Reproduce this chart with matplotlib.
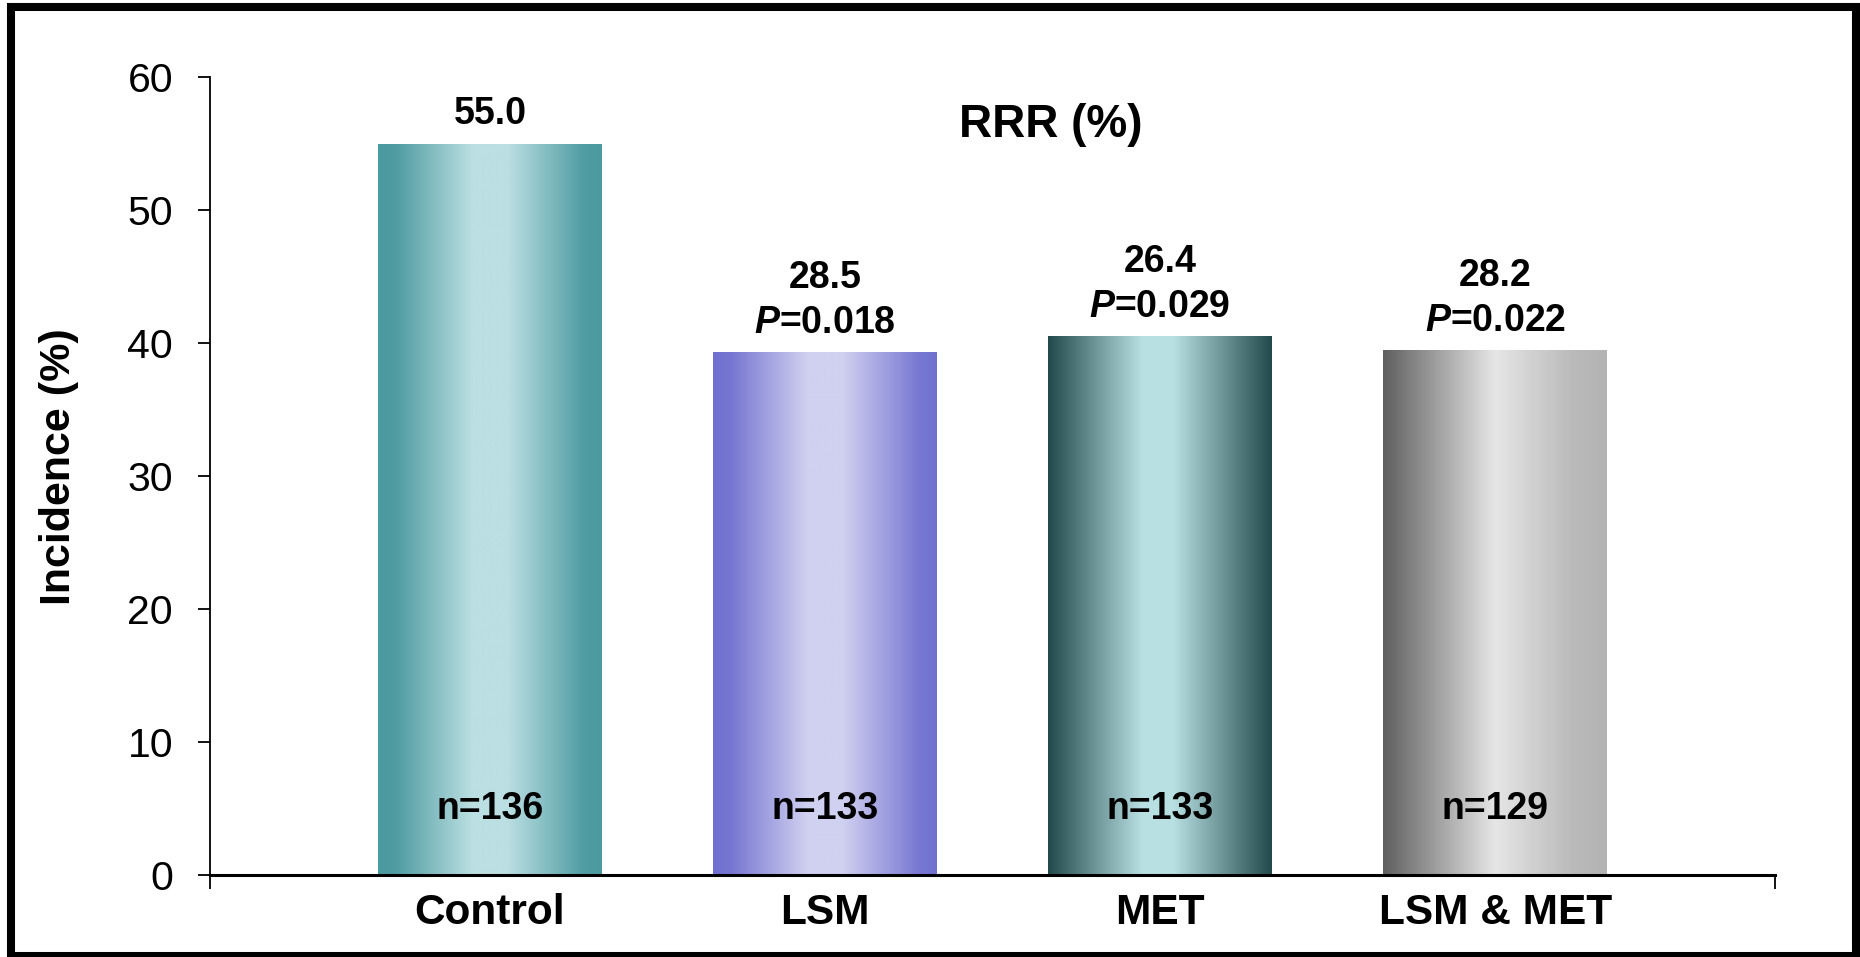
import numpy as np
import matplotlib
matplotlib.use("Agg")
import matplotlib.pyplot as plt
from matplotlib.colors import LinearSegmentedColormap
from matplotlib.patches import Rectangle

# ─── Data ────────────────────────────────────────────────────────────────────

groups = ["Control", "LSM", "MET", "LSM & MET"]
incidence = [55.0, 39.3, 40.5, 39.5]
rrr = [None, 28.5, 26.4, 28.2]
p_values = [None, "0.018", "0.029", "0.022"]
n_sizes = [136, 133, 133, 129]

# ─── Style ───────────────────────────────────────────────────────────────────

# horizontal gradient stops (position across bar, colour) for each bar
bar_gradients = [
    [(0.0, "#4a9aa0"), (0.08, "#4f9ca2"), (0.42, "#bbdfe2"), (0.58, "#bbdfe2"),
     (0.92, "#509da3"), (1.0, "#4a9aa0")],
    [(0.0, "#7070d0"), (0.08, "#7676d2"), (0.42, "#d0d0f0"), (0.58, "#d0d0f0"),
     (0.92, "#7878d3"), (1.0, "#7070d0")],
    [(0.0, "#224a4c"), (0.42, "#b8e0e2"), (0.56, "#b8e0e2"), (1.0, "#224a4c")],
    [(0.0, "#5f5f5f"), (0.5, "#e6e6e6"), (0.85, "#bababa"), (1.0, "#b3b3b3")],
]

plt.rcParams["font.family"] = ["Liberation Sans", "DejaVu Sans"]
plt.rcParams["mathtext.fontset"] = "custom"
plt.rcParams["mathtext.it"] = "Liberation Sans:italic:bold"
plt.rcParams["mathtext.rm"] = "Liberation Sans:bold"

LABEL_SIZE = 27
BAR_WIDTH = 0.668


def main():
    fig = plt.figure(figsize=(18.6, 9.57), dpi=100)
    ax = fig.add_axes([0.1129, 0.0857, 0.8414, 0.8338])

    x = np.arange(len(groups))
    bars = ax.bar(x, incidence, BAR_WIDTH, color="none", edgecolor="none", zorder=2)

    # fill each bar with its gradient, clipped to the bar outline
    ramp = np.linspace(0, 1, 256).reshape(1, -1)
    for patch, stops in zip(bars, bar_gradients):
        cmap = LinearSegmentedColormap.from_list("bar", stops)
        x0, w, h = patch.get_x(), patch.get_width(), patch.get_height()
        im = ax.imshow(ramp, cmap=cmap, aspect="auto", interpolation="bilinear",
                       extent=(x0, x0 + w, 0, h), zorder=2)
        im.set_clip_path(patch)

    ax.set_xlim(-0.835, len(groups) - 1 + 0.835)
    ax.set_ylim(0, 60)

    # value labels above bars
    for xi, h, r, p in zip(x, incidence, rrr, p_values):
        if r is None:
            ax.annotate(f"{h:.1f}", (xi, h), xytext=(0, 30), textcoords="offset pixels",
                        ha="center", va="center", fontsize=LABEL_SIZE, fontweight="bold")
        else:
            ax.annotate(f"{r:.1f}", (xi, h), xytext=(0, 74), textcoords="offset pixels",
                        ha="center", va="center", fontsize=LABEL_SIZE, fontweight="bold")
            ax.annotate(f"$P$=" + p, (xi, h), xytext=(0, 29), textcoords="offset pixels",
                        ha="center", va="center", fontsize=LABEL_SIZE, fontweight="bold")

    for xi, n in zip(x, n_sizes):
        ax.text(xi, 4.95, f"n={n}", ha="center", va="center",
                fontsize=LABEL_SIZE, fontweight="bold", zorder=3)

    # ── Axes ──────────────────────────────────────────────────────────────
    for side in ["top", "right"]:
        ax.spines[side].set_visible(False)
    ax.spines["left"].set_linewidth(1.3)
    ax.spines["bottom"].set_linewidth(2.2)
    ax.spines["bottom"].set_zorder(4)

    ax.set_yticks(range(0, 61, 10))
    ax.tick_params(axis="y", direction="out", length=8.6, width=1.3,
                   pad=18, labelsize=29.5)

    ax.set_xticks(x)
    ax.set_xticklabels(groups, fontsize=30.5, fontweight="bold")
    ax.tick_params(axis="x", which="major", length=0, pad=13)
    ax.set_xticks(ax.get_xlim(), minor=True)
    ax.tick_params(axis="x", which="minor", direction="out", length=10, width=1.3)

    fig.text(1051 / 1860, 1 - 125 / 957, "RRR (%)", ha="center", va="center",
             fontsize=33, fontweight="bold")
    fig.text(59 / 1860, 1 - 467 / 957, "Incidence (%)", ha="center", va="center",
             rotation=90, fontsize=31, fontweight="bold")

    # outer frame
    fig.patches.append(Rectangle((0.0059, 0.001), 0.9919, 0.9916, transform=fig.transFigure,
                                 fill=False, edgecolor="black", linewidth=5.8))

    fig.savefig("out.png", dpi=100)


if __name__ == "__main__":
    main()
